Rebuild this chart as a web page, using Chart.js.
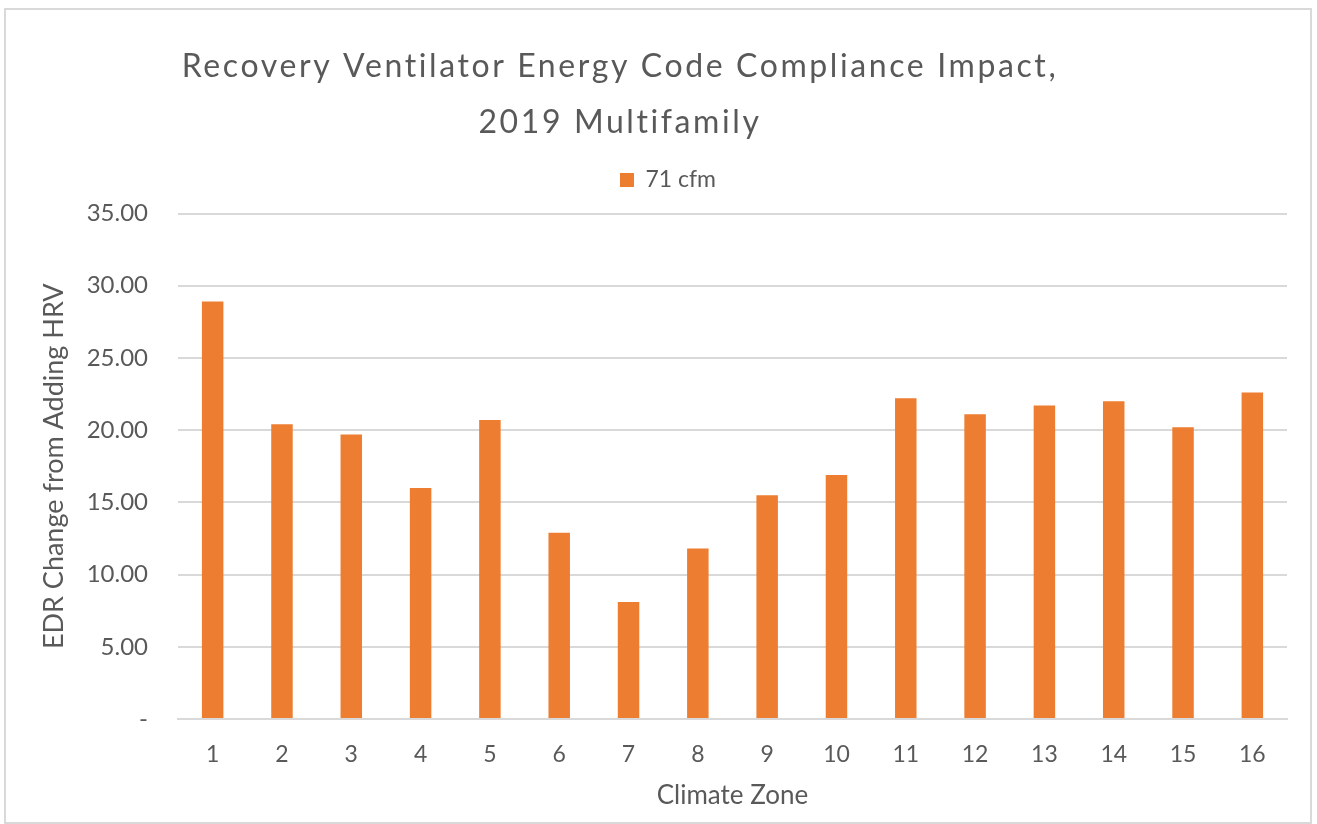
<!DOCTYPE html>
<html>
<head>
<meta charset="utf-8">
<script src="https://cdn.jsdelivr.net/npm/chart.js@4"></script>
<style>
  body { margin: 0; background: #fff; overflow: hidden; }
  #wrap { position: relative; width: 1317px; height: 824px; }
  #frame { position: absolute; left: 4px; top: 8px; width: 1304px; height: 812px; border: 2px solid #d9d9d9; pointer-events: none; }
</style>
</head>
<body>
<div id="wrap">
  <canvas id="chart" width="1317" height="824"></canvas>
  <div id="frame"></div>
</div>
<script>
// datos
const zones = ['1', '2', '3', '4', '5', '6', '7', '8', '9', '10', '11', '12', '13', '14', '15', '16'];
const cfm71 = [28.9, 20.4, 19.7, 16.0, 20.7, 12.9, 8.1, 11.8, 15.5, 16.9, 22.2, 21.1, 21.7, 22.0, 20.2, 22.6];
const titleLines = ['Recovery Ventilator Energy Code Compliance Impact,', '2019 Multifamily'];

const FONT = 'Lato, "Noto Sans", sans-serif';
const GREY = '#595959';

// titulo dibujado a mano para poder centrarlo donde esta en el original
const titlePlugin = {
  id: 'titleLines',
  afterDraw(chart) {
    const ctx = chart.ctx;
    ctx.save();
    ctx.fillStyle = GREY;
    ctx.font = '32px ' + FONT;
    ctx.letterSpacing = '2.6px';
    ctx.textAlign = 'center';
    ctx.textBaseline = 'alphabetic';
    ctx.fillText(titleLines[0], 620, 77);
    ctx.fillText(titleLines[1], 620, 133);
    ctx.restore();
  }
};

// un poco mas de hueco debajo de la leyenda
const legendGap = {
  id: 'legendGap',
  beforeInit(chart) {
    const fit = chart.legend.fit;
    chart.legend.fit = function () {
      fit.bind(chart.legend)();
      this.height += 12;
    };
  }
};

new Chart(document.getElementById('chart'), {
  type: 'bar',
  data: {
    labels: zones,
    datasets: [
      {
        label: '71 cfm',
        data: cfm71,
        backgroundColor: '#ED7D31',
        barPercentage: 0.31,
        categoryPercentage: 1.0,
      },
    ],
  },
  options: {
    responsive: false,
    animation: false,
    layout: { padding: { left: 49, right: 30, top: 147, bottom: 0 } },
    plugins: {
      legend: {
        position: 'top',
        labels: {
          color: GREY,
          font: { family: FONT, size: 23 },
          boxWidth: 14,
          boxHeight: 14,
          padding: 21.5,
        },
      },
      tooltip: { enabled: false },
    },
    scales: {
      x: {
        grid: { display: false },
        border: { display: true, color: '#d9d9d9', width: 2 },
        ticks: { color: GREY, font: { family: FONT, size: 23 }, padding: 14 },
        title: {
          display: true,
          text: 'Climate Zone',
          color: GREY,
          font: { family: FONT, size: 26 },
          padding: { top: 0, bottom: 13 },
        },
        afterFit(scale) { scale.height = 105; },
      },
      y: {
        min: 0,
        max: 35,
        grid: { color: '#d9d9d9', lineWidth: 2, drawTicks: false },
        border: { display: false },
        ticks: {
          stepSize: 5,
          color: GREY,
          font: { family: FONT, size: 24 },
          padding: 30,
          callback: (v) => (v === 0 ? '-' : v.toFixed(2)),
        },
        title: {
          display: true,
          text: 'EDR Change from Adding HRV',
          color: GREY,
          font: { family: FONT, size: 27, lineHeight: '10px' },
          padding: { top: 0, bottom: 0 },
        },
        afterFit(scale) { scale.width = 129; },
      },
    },
  },
  plugins: [titlePlugin, legendGap],
});
</script>
</body>
</html>
